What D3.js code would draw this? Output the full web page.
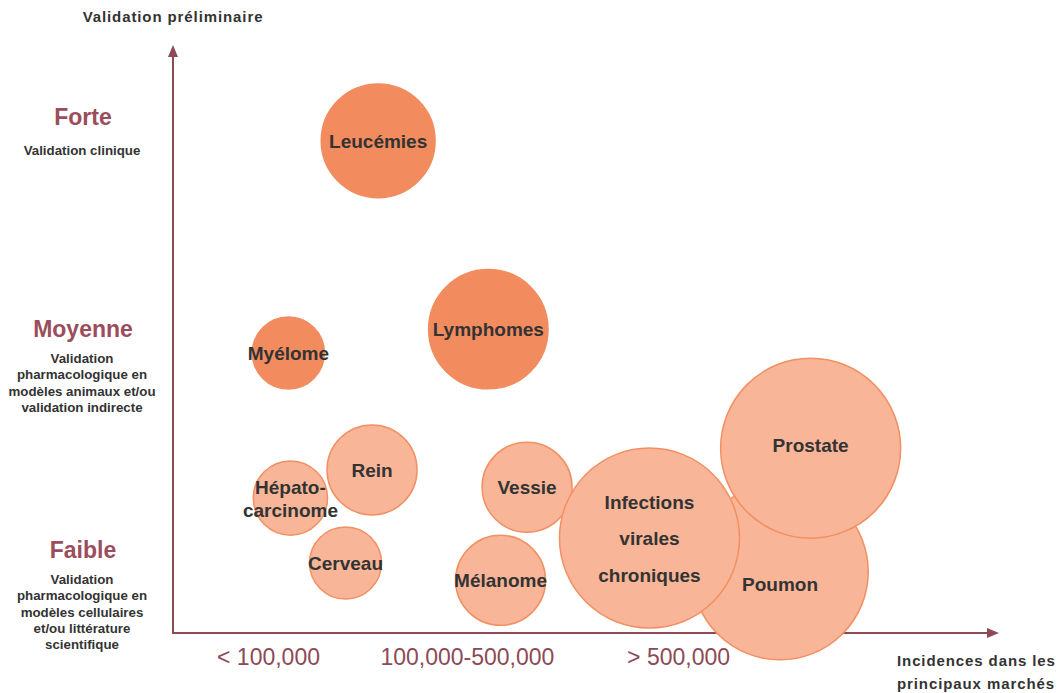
<!DOCTYPE html>
<html>
<head>
<meta charset="utf-8">
<script src="https://cdn.jsdelivr.net/npm/d3@7"></script>
<style>
  body { margin: 0; background: #fff; }
  text { font-family: "Liberation Sans", Arial, sans-serif; }
</style>
</head>
<body>
<script>
// bubbles: position in category units (x: incidence class, y: validation level), size = relative area
const names = ["Poumon", "Leucémies", "Lymphomes", "Myélome", "Rein", "Hépato-\ncarcinome", "Cerveau",
               "Vessie", "Mélanome", "Infections\nvirales\nchroniques", "Prostate"];
const xs    = [2.51, 0.54, 1.08, 0.10, 0.51, 0.11, 0.38, 1.27, 1.14, 1.87, 2.66];
const ys    = [-0.10, 1.89, 1.02, 0.91, 0.37, 0.24, -0.06, 0.29, -0.14, 0.055, 0.47];
const sizes = [96, 40, 44, 16, 25, 17, 16, 25, 25, 100, 100];
const strong = [false, true, true, true, false, false, false, false, false, false, false];

const xLabels = ["< 100,000", "100,000-500,000", "> 500,000"];
const xTicks = [0, 0.975, 2.01];
const levels = ["Faible", "Moyenne", "Forte"];
const levelTicks = [0, 1.02, 2];
const levelNotes = [
  ["Validation", "pharmacologique en", "modèles cellulaires", "et/ou littérature", "scientifique"],
  ["Validation", "pharmacologique en", "modèles animaux et/ou", "validation indirecte"],
  ["Validation clinique"]
];

const W = 1060, H = 693;
const axisColor = "#8c4a56", levelColor = "#9b4d5b", textColor = "#333";

const svg = d3.select("body").append("svg")
  .attr("width", W).attr("height", H);

const xScale = d3.scaleLinear().domain([0, 2]).range([268, 676]);
const yScale = d3.scaleLinear().domain([0, 2]).range([550, 117]);
const rScale = d3.scaleSqrt().domain([0, 100]).range([0, 90]);

const x0 = 173, y0 = 633;

// axes
svg.append("line").attr("x1", x0).attr("y1", y0).attr("x2", x0).attr("y2", 54)
  .attr("stroke", axisColor).attr("stroke-width", 2);
svg.append("path").attr("d", `M${x0 - 5},57 L${x0},45 L${x0 + 5},57 Z`).attr("fill", axisColor);
svg.append("line").attr("x1", x0 - 1).attr("y1", y0).attr("x2", 990).attr("y2", y0)
  .attr("stroke", axisColor).attr("stroke-width", 2);
svg.append("path").attr("d", `M987,${y0 - 5} L999,${y0} L987,${y0 + 5} Z`).attr("fill", axisColor);

const xAxis = svg.append("g")
  .attr("transform", `translate(0,${y0})`)
  .call(d3.axisBottom(xScale).tickValues(xTicks).tickSize(0).tickPadding(0)
    .tickFormat((d, i) => xLabels[i]));
xAxis.select(".domain").remove();
xAxis.selectAll("text")
  .attr("y", 32).attr("dy", 0)
  .style("font-family", "'Liberation Sans', Arial, sans-serif")
  .style("font-size", "23px")
  .attr("fill", axisColor);

// axis titles
svg.append("text").attr("x", x0).attr("y", 22).attr("text-anchor", "middle")
  .style("font-size", "15px").style("font-weight", "bold").style("letter-spacing", "0.9px")
  .attr("fill", textColor).text("Validation préliminaire");
svg.append("text").attr("x", 897).attr("y", 666)
  .style("font-size", "15px").style("font-weight", "bold").style("letter-spacing", "0.9px")
  .attr("fill", textColor)
  .selectAll("tspan").data(["Incidences dans les", "principaux marchés"]).join("tspan")
  .attr("x", 897).attr("dy", (d, i) => i ? 23 : 0).text(d => d);

// validation levels
levels.forEach((lv, i) => {
  const y = yScale(levelTicks[i]);
  svg.append("text").attr("x", 83).attr("y", y + 8).attr("text-anchor", "middle")
    .style("font-size", "23px").style("font-weight", "bold").attr("fill", levelColor).text(lv);
  svg.append("text").attr("text-anchor", "middle")
    .style("font-size", "13.3px").style("font-weight", "bold").attr("fill", textColor)
    .selectAll("tspan").data(levelNotes[i]).join("tspan")
    .attr("x", 82).attr("y", (d, j) => y + (i === 2 ? 38 : 34) + j * 16.3).text(d => d);
});

// bubbles
const idx = d3.range(names.length);
svg.append("g").selectAll("circle").data(idx).join("circle")
  .attr("cx", i => xScale(xs[i]))
  .attr("cy", i => yScale(ys[i]))
  .attr("r", i => rScale(sizes[i]))
  .attr("fill", i => strong[i] ? "#f28c5e" : "#f8b597")
  .attr("stroke", i => strong[i] ? "#f28c5e" : "#f19062")
  .attr("stroke-width", 1.5);

const labels = svg.append("g").selectAll("text").data(idx).join("text")
  .attr("text-anchor", "middle")
  .style("font-size", "19px").style("font-weight", "bold")
  .attr("fill", textColor);
labels.each(function(i) {
  const lines = names[i].split("\n");
  const lh = lines.length > 2 ? 36.5 : 23;
  const cx = xScale(xs[i]);
  const cy = yScale(ys[i]) + (names[i] === "Poumon" ? 12 : 0) + (names[i] === "Prostate" ? -3 : 0);
  d3.select(this).selectAll("tspan").data(lines).join("tspan")
    .attr("x", cx)
    .attr("y", (d, j) => cy + 7 + (j - (lines.length - 1) / 2) * lh)
    .text(d => d);
});
</script>
</body>
</html>
